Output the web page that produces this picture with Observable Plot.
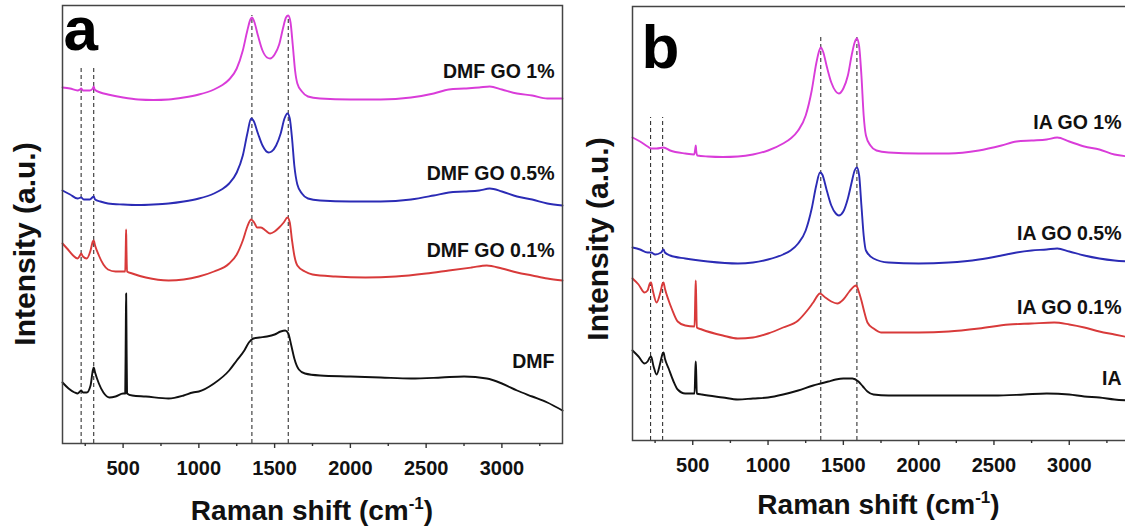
<!DOCTYPE html>
<html><head><meta charset="utf-8">
<script src="https://cdn.jsdelivr.net/npm/d3@7"></script>
<script src="https://cdn.jsdelivr.net/npm/@observablehq/plot@0.6"></script>
<style>
html,body{margin:0;padding:0;background:#fff;overflow:hidden;}
#wrap{position:relative;width:1125px;height:527px;overflow:hidden;background:#fff;}
.panel{position:absolute;top:0;}
</style></head><body><div id="wrap"><div id="pa" class="panel" style="left:0px"></div><div id="pb" class="panel" style="left:570px"></div></div>
<script>
// ---------- DATA (Raman shift cm^-1, intensity a.u.) ----------
const xDomain = [100, 3400];
const majorTicks = [500, 1000, 1500, 2000, 2500, 3000];
const minorTicks = [250, 750, 1250, 1750, 2250, 2750, 3250];

// Panel a : DMF series
const namesA = ["DMF GO 1%", "DMF GO 0.5%", "DMF GO 0.1%", "DMF"];
const dmfGO1 = [[100,356],[150,355],[200,353],[215,354],[223,355],[235,353],[280,353],[300,355],[306,357],[312,354],[350,351],[400,349],[500,346],[600,344],[700,343.5],[800,344],[900,346],[1000,349],[1100,354],[1150,358],[1200,364],[1250,375],[1290,393],[1320,413],[1340,424],[1350,426],[1365,422],[1390,408],[1420,393],[1450,386],[1470,385],[1500,389],[1530,399],[1555,415],[1575,426],[1590,428],[1605,421],[1620,398],[1635,373],[1650,360],[1680,352],[1720,347],[1800,345],[2000,344],[2200,344],[2400,346],[2550,350],[2650,354],[2750,355],[2850,356],[2920,357],[3000,354],[3100,350],[3200,348],[3300,345],[3400,345]];
const dmfGO05 = [[100,253],[150,249],[200,245],[223,246],[240,244],[280,244],[306,247],[315,244],[350,242],[400,240],[500,239],[600,238.5],[700,239],[800,240],[900,242],[1000,245],[1100,250],[1150,254],[1200,260],[1250,271],[1290,288],[1320,310],[1345,325],[1360,323],[1390,310],[1420,298],[1460,291],[1480,292],[1510,298],[1540,310],[1565,325],[1585,330],[1600,325],[1615,305],[1630,278],[1650,259],[1680,250],[1720,245],[1800,243],[2000,242],[2200,242],[2400,244],[2550,248],[2650,251],[2750,252],[2850,253],[2920,255],[3000,252],[3100,247],[3200,244],[3300,240],[3400,238]];
const dmfGO01 = [[100,200],[130,195],[170,188],[200,185],[215,188],[223,190],[235,187],[260,185],[285,193],[300,202],[306,203],[315,198],[340,188],[370,179],[400,174],[450,172],[500,172],[514,172],[518,200],[520,214],[522,196],[526,172],[560,170],[650,166],[800,163],[900,164],[1000,167],[1100,172],[1200,180],[1250,189],[1290,203],[1320,217],[1345,224],[1365,221],[1385,216],[1410,216],[1440,213],[1470,210],[1500,212],[1530,216],[1560,221],[1585,226],[1600,221],[1615,203],[1630,188],[1650,178],[1700,172],[1750,169],[1900,167],[2100,166],[2300,167],[2500,170],[2650,173],[2800,176],[2900,178],[3000,175],[3100,171],[3200,168],[3300,165],[3400,163]];
const dmf = [[100,61],[140,55],[180,51],[200,50],[215,52],[223,53],[235,51],[260,51],[285,58],[300,73],[306,76],[315,71],[340,60],[370,51],[410,46],[450,47],[500,50],[514,50],[518,120],[520,150],[522,118],[526,50],[560,48],[650,47],[800,45],[900,48],[960,51],[1000,52],[1100,60],[1200,73],[1250,83],[1300,93],[1330,101],[1360,105],[1400,106],[1450,107],[1500,109],[1540,112],[1570,113],[1590,110],[1610,98],[1630,85],[1660,74],[1700,70],[1800,68],[2000,67],[2200,66],[2400,65],[2600,66],[2750,67],[2900,65],[3000,60],[3100,53],[3200,47],[3300,41],[3400,33]];
const peaksA = [223, 306, 1350, 1590];
const peakTopsA = [375, 375, 428, 428];

// Panel b : IA series
const namesB = ["IA GO 1%", "IA GO 0.5%", "IA GO 0.1%", "IA"];
const iaGO1 = [[100,303],[150,299],[200,294],[223,292],[260,292],[306,293],[350,290],[450,287],[510,286],[517,292],[520,295],[523,290],[530,285],[600,284],[700,283.5],[800,284],[900,286],[1000,290],[1100,297],[1150,302],[1200,310],[1250,325],[1290,350],[1320,377],[1340,390],[1350,393],[1365,389],[1390,374],[1420,358],[1450,349],[1470,347],[1500,352],[1530,365],[1555,385],[1575,398],[1590,402],[1605,394],[1620,365],[1635,325],[1650,305],[1680,295],[1720,290],[1800,288],[2000,287],[2200,287],[2400,290],[2550,295],[2650,299],[2750,300],[2850,301],[2920,303],[3000,299],[3100,294],[3200,291],[3300,286],[3400,284]];
const iaGO05 = [[100,193],[150,191],[200,188],[223,188],[250,186],[290,188],[306,191],[315,188],[350,185],[450,182],[600,179],[800,177],[900,178],[1000,181],[1100,186],[1150,190],[1200,197],[1250,210],[1290,232],[1320,255],[1345,268],[1360,266],[1390,250],[1420,235],[1450,227],[1470,225],[1500,229],[1530,242],[1555,258],[1575,270],[1590,273],[1605,265],[1620,235],[1635,205],[1650,190],[1700,182],[1800,178],[2000,177],[2200,178],[2400,181],[2550,185],[2650,188],[2750,190],[2850,191],[2920,192],[3000,189],[3100,185],[3200,182],[3300,180],[3400,179]];
const iaGO01 = [[100,162],[140,156],[180,148],[200,150],[215,157],[223,158],[235,150],[260,138],[285,148],[300,157],[306,158],[315,152],[340,140],[360,132],[400,119],[450,115],[512,114],[517,145],[520,160],[523,142],[527,113],[560,111],[700,105],[800,102],[900,103],[1000,107],[1100,113],[1200,120],[1260,130],[1300,138],[1345,147],[1380,143],[1420,139],[1460,137],[1500,141],[1540,149],[1570,154],[1585,155],[1600,150],[1620,140],[1640,128],[1660,118],[1700,112],[1750,108],[2000,108],[2200,109],[2400,112],[2600,116],[2750,117],[2900,118],[3000,116],[3100,113],[3200,109],[3300,106],[3400,103]];
const ia = [[100,90],[140,84],[180,77],[200,79],[215,83],[223,84],[240,74],[260,66],[285,78],[300,87],[306,88],[315,82],[340,72],[370,60],[400,51],[450,47],[512,47],[517,70],[520,79],[523,68],[527,47],[560,46],[700,43],[800,41],[900,42],[1000,43],[1100,46],[1200,50],[1300,55],[1350,57],[1400,59],[1450,61],[1500,62],[1560,62],[1600,59],[1630,54],[1660,49],[1700,46],[1800,45],[2000,45],[2300,45],[2500,45],[2700,46],[2850,47],[3000,46],[3100,44],[3200,43],[3300,41],[3400,40]];
const peaksB = [220, 300, 1350, 1590];
const peakTopsB = [323, 323, 405, 405];

const seriesColors = ["#d93cd9", "#2b2bb5", "#d83a3a", "#111111"];
// ---------------------------------------------------------------

const FONT = '"Liberation Sans", Arial, Helvetica, sans-serif';

function makePanel(cfg) {
  const {series, names, peaks, peakTops, letter, width, ml, mr, mt, mb, ymax,
         letterDx, letterDy, ylabDx, ylabDy} = cfg;
  const marks = [];
  marks.push(Plot.ruleX(peaks.map((p, i) => ({x: p, top: peakTops[i]})), {
    x: "x", y1: 0, y2: "top", stroke: "#333", strokeWidth: 1.1, strokeDasharray: "4,3"
  }));
  series.forEach((s, i) => {
    marks.push(Plot.line(s, {x: d => d[0], y: d => d[1], stroke: seriesColors[i],
      strokeWidth: 1.9, curve: "monotone-x"}));
  });
  const labelRows = series.map((s, i) => ({
    x: xDomain[1],
    y: d3.max(s.filter(d => d[0] >= 2000), d => d[1]),
    label: names[i]
  }));
  marks.push(Plot.text(labelRows, {x: "x", y: "y", text: "label", textAnchor: "end",
    lineAnchor: "bottom", dx: -8, dy: -9, fontSize: 19.5, fontWeight: "bold", fill: "#111"}));
  marks.push(Plot.frame({stroke: "#444", strokeWidth: 1.5}));
  // ticks (outward, below the frame)
  marks.push(Plot.axisX(majorTicks, {tickSize: 5, strokeWidth: 1.4, stroke: "#333",
    text: null, label: null}));
  marks.push(Plot.axisX(minorTicks, {tickSize: 3, strokeWidth: 1.4, stroke: "#333",
    text: null, label: null}));
  // tick labels
  marks.push(Plot.text(majorTicks, {x: d => d, text: d => String(d), frameAnchor: "bottom",
    lineAnchor: "top", dy: 17, fontSize: 20, fontWeight: "bold", fill: "#111"}));
  marks.push(Plot.text([letter], {text: d => d, frameAnchor: "top-left", textAnchor: "start",
    lineAnchor: "top", fontSize: 62, fontWeight: "bold", fill: "#000", dx: letterDx, dy: letterDy}));
  marks.push(Plot.text(["Intensity (a.u.)"], {text: d => d, frameAnchor: "left", rotate: -90,
    textAnchor: "middle", lineAnchor: "middle", fontSize: 30, fontWeight: "bold", fill: "#111",
    dx: ylabDx, dy: ylabDy}));

  return Plot.plot({
    width, height: 527,
    marginLeft: ml, marginRight: mr, marginTop: mt, marginBottom: mb,
    x: {domain: xDomain, axis: null},
    y: {domain: [0, ymax], axis: null},
    style: {fontFamily: FONT, fontWeight: "bold", fontSize: "20px", background: "transparent",
      overflow: "visible", maxWidth: "none", color: "#111"},
    marks
  });
}

function addXTitle(svg, cx, baseline) {
  const t = d3.select(svg).append("text")
    .attr("x", cx).attr("y", baseline)
    .attr("text-anchor", "middle")
    .attr("font-family", FONT).attr("font-size", 28).attr("font-weight", "bold").attr("fill", "#111");
  t.append("tspan").text("Raman shift (cm");
  t.append("tspan").attr("font-size", 17).attr("dy", -11).text("-1");
  t.append("tspan").attr("dy", 11).text(")");
}

const svgA = makePanel({
  series: [dmfGO1, dmfGO05, dmfGO01, dmf], names: namesA, peaks: peaksA, peakTops: peakTopsA,
  letter: "a", width: 575, ml: 62, mr: 13, mt: 5, mb: 84, ymax: 438,
  letterDx: 1, letterDy: 0, ylabDx: -37, ylabDy: 19.5
});
addXTitle(svgA, 312, 520);
document.getElementById("pa").appendChild(svgA);

const svgB = makePanel({
  series: [iaGO1, iaGO05, iaGO01, ia], names: namesB, peaks: peaksB, peakTops: peakTopsB,
  letter: "b", width: 570, ml: 62, mr: 11, mt: 6, mb: 87, ymax: 434,
  letterDx: 9, letterDy: 17, ylabDx: -34.5, ylabDy: 15.5
});
addXTitle(svgB, 308.5, 514);
document.getElementById("pb").appendChild(svgB);
</script>
</body></html>
